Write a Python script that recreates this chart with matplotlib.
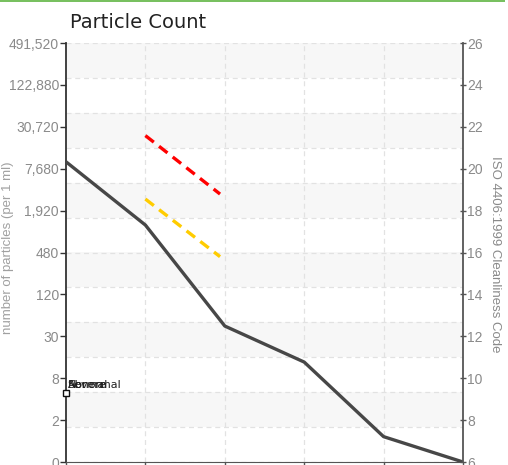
import matplotlib.pyplot as plt
from matplotlib.patches import Rectangle

# Particle count chart: ISO code on the right, matching particle counts on the left
iso_codes = [6, 8, 10, 12, 14, 16, 18, 20, 22, 24, 26]
count_labels = ['0', '2', '8', '30', '120', '480', '1,920', '7,680', '30,720', '122,880', '491,520']

sample_x = [0, 1, 2, 3, 4, 5]
sample_code = [20.33, 17.31, 12.49, 10.77, 7.21, 6.0]

severe_x = [1, 1.94]
severe_code = [21.58, 18.79]
abnormal_x = [1, 1.94]
abnormal_code = [18.55, 15.8]

legend_names = ['Severe', 'Abnormal', 'Normal']

tick_font = ['Liberation Sans', 'DejaVu Sans']

fig = plt.figure(figsize=(5.08, 4.65), dpi=100)
ax = fig.add_axes([66 / 508, 1 - 462 / 465, (463 - 66) / 508, (462 - 43) / 465])
ax.set_xlim(0, 5)
ax.set_ylim(6, 26)

# alternating background bands with dashed grid lines
n_bands = 12
step = 20 / n_bands
for i in range(n_bands):
    top = 26 - i * step
    if i % 2 == 0:
        ax.axhspan(top - step, top, color='#f7f7f7', zorder=0, lw=0)
    ax.axhline(top - step, color='#e2e2e2', lw=0.9, ls=(0, (4, 3)), zorder=1)
ax.axhline(26, color='#e2e2e2', lw=0.9, ls=(0, (4, 3)), zorder=1)
for xv in sample_x[1:-1]:
    ax.axvline(xv, color='#e2e2e2', lw=0.9, ls=(0, (4, 3)), zorder=1)

ax.plot(sample_x, sample_code, color='#474747', lw=2.4, zorder=3, solid_capstyle='round')
ax.plot(severe_x, severe_code, color='#ff0000', lw=2.4, ls=(0, (3.2, 2)), zorder=3)
ax.plot(abnormal_x, abnormal_code, color='#ffcc00', lw=2.4, ls=(0, (3.2, 2)), zorder=3)

# overlapping legend labels like the original
for name in legend_names:
    ax.text(0.02, 9.66, name, fontsize=8, family='DejaVu Sans', color='#222222',
            va='center', ha='left', zorder=5, clip_on=False)
ax.plot([0], [9.29], marker='s', ms=4, mfc='white', mec='#111111', mew=1, zorder=6, clip_on=False)

ax.set_yticks(iso_codes)
ax.set_yticklabels(count_labels, family=tick_font, fontsize=10, color='#8a8a8a')
ax.set_xticks(sample_x)
ax.set_xticklabels([])
ax.tick_params(axis='y', length=4, width=1, color='#333333', pad=1)
ax.tick_params(axis='x', length=5, width=1, color='#555555', direction='out')

for side in ['top', 'right']:
    ax.spines[side].set_visible(False)
ax.spines['left'].set_color('#333333')
ax.spines['left'].set_linewidth(1.3)
ax.spines['bottom'].set_color('#555555')

ax2 = ax.twinx()
ax2.set_ylim(6, 26)
ax2.set_yticks(iso_codes)
ax2.set_yticklabels([str(c) for c in iso_codes], family=tick_font, fontsize=10, color='#8a8a8a')
ax2.tick_params(axis='y', length=4, width=1, color='#555555', direction='inout', pad=1)
for side in ['top', 'left', 'bottom']:
    ax2.spines[side].set_visible(False)
ax2.spines['right'].set_color('#555555')
ax2.spines['right'].set_linewidth(1.3)

fig.text(8 / 508, 1 - 248 / 465, 'number of particles (per 1 ml)', rotation=90,
         family=tick_font, fontsize=9.5, color='#a0a0a0',
         ha='center', va='center')
fig.text(495 / 508, 1 - 254 / 465, 'ISO 4406:1999 Cleanliness Code', rotation=-90,
         family=tick_font, fontsize=9.5, color='#8a8a8a', ha='center', va='center')

fig.text(70 / 508, 1 - 28 / 465, 'Particle Count', fontsize=14, color='#222222',
         family='DejaVu Sans', ha='left', va='baseline')

# green strip at the top edge
fig.patches.append(Rectangle((0, 1 - 2.5 / 465), 505 / 508, 2.5 / 465,
                             transform=fig.transFigure, color='#78c060', lw=0))

fig.savefig('out.png', dpi=100)
